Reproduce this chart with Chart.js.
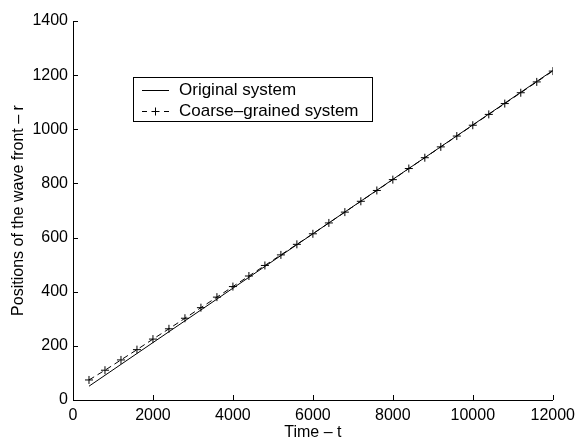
<!DOCTYPE html>
<html>
<head>
<meta charset="utf-8">
<script src="https://cdn.jsdelivr.net/npm/chart.js@4.4.1/dist/chart.umd.min.js"></script>
<style>
  html, body { margin: 0; padding: 0; background: #fff; }
  #wrap { width: 581px; height: 443px; }
</style>
</head>
<body>
<div id="wrap"><canvas id="c" width="581" height="443"></canvas></div>
<script>
// Wave-front position versus time for the two models
const originalT = [400, 2000, 4000, 6000, 8000, 10000, 12000];
const originalR = [51, 212, 413, 614, 815, 1016, 1217];

const coarseT = [400, 800, 1200, 1600, 2000, 2400, 2800, 3200, 3600, 4000,
                 4400, 4800, 5200, 5600, 6000, 6400, 6800, 7200, 7600, 8000,
                 8400, 8800, 9200, 9600, 10000, 10400, 10800, 11200, 11600, 12000];
const coarseR = [74, 110, 148, 186, 225, 263, 302, 341, 380, 419,
                 458, 497, 536, 575, 614, 654, 694, 734, 774, 814,
                 855, 895, 935, 975, 1015, 1055, 1095, 1135, 1175, 1215];

const xTicks = [0, 2000, 4000, 6000, 8000, 10000, 12000];
const yTicks = [0, 200, 400, 600, 800, 1000, 1200, 1400];

const seriesNames = ['Original system', 'Coarse\u2013grained system'];
const xTitle = 'Time \u2013 t';
const yTitle = 'Positions of the wave front \u2013 r';

const FONT = "'Liberation Sans', Arial, Helvetica, sans-serif";

const toPts = (xs, ys) => xs.map((x, i) => ({ x, y: ys[i] }));

// Inward tick marks (drawn on the inside of the axes)
const innerTicks = {
  id: 'innerTicks',
  afterDraw(chart) {
    const { ctx, chartArea: a, scales: { x, y } } = chart;
    const len = 5;
    ctx.save();
    ctx.strokeStyle = '#000';
    ctx.lineWidth = 1;
    ctx.beginPath();
    xTicks.forEach(v => {
      const px = Math.round(x.getPixelForValue(v)) + 0.5;
      ctx.moveTo(px, a.bottom);
      ctx.lineTo(px, a.bottom - len);
    });
    yTicks.forEach(v => {
      const py = Math.round(y.getPixelForValue(v)) + 0.5;
      ctx.moveTo(a.left, py);
      ctx.lineTo(a.left + len, py);
    });
    ctx.stroke();
    ctx.restore();
  }
};

// Boxed legend placed inside the plot area
const boxLegend = {
  id: 'boxLegend',
  afterDraw(chart) {
    const { ctx } = chart;
    const x0 = 133, y0 = 77, w = 239, h = 44;
    ctx.save();
    ctx.fillStyle = '#fff';
    ctx.fillRect(x0, y0, w, h);
    ctx.strokeStyle = '#000';
    ctx.lineWidth = 1;
    ctx.strokeRect(x0 + 0.5, y0 + 0.5, w, h);
    ctx.font = '17px ' + FONT;
    ctx.fillStyle = '#000';
    ctx.textBaseline = 'middle';
    chart.data.datasets.forEach((ds, i) => {
      const cy = y0 + 13 + i * 21 + 0.5;
      const lx1 = x0 + 9, lx2 = x0 + 36;
      // sample line: short dashes for the dashed series
      ctx.setLineDash(ds.borderDash ? [5, 6] : []);
      ctx.lineWidth = ds.borderWidth;
      ctx.beginPath();
      ctx.moveTo(lx1, cy);
      ctx.lineTo(lx2, cy);
      ctx.stroke();
      ctx.setLineDash([]);
      if (ds.pointRadius > 0) {
        const mx = (lx1 + lx2) / 2, r = ds.pointRadius;
        ctx.beginPath();
        ctx.moveTo(mx - r, cy); ctx.lineTo(mx + r, cy);
        ctx.moveTo(mx, cy - r); ctx.lineTo(mx, cy + r);
        ctx.stroke();
      }
      ctx.fillText(ds.label, x0 + 46, cy);
    });
    ctx.restore();
  }
};

new Chart(document.getElementById('c'), {
  type: 'scatter',
  data: {
    datasets: [
      {
        label: seriesNames[0],
        data: toPts(originalT, originalR),
        showLine: true,
        borderColor: '#000',
        borderWidth: 1,
        pointRadius: 0,
        fill: false
      },
      {
        label: seriesNames[1],
        data: toPts(coarseT, coarseR),
        showLine: true,
        borderColor: '#000',
        borderWidth: 1,
        borderDash: [6, 4],
        pointStyle: 'cross',
        pointRadius: 4,
        pointBorderColor: '#000',
        pointBorderWidth: 1,
        fill: false
      }
    ]
  },
  options: {
    responsive: false,
    animation: false,
    layout: { padding: { top: 21, right: 24, left: 0, bottom: 0 } },
    plugins: {
      legend: { display: false },
      tooltip: { enabled: false }
    },
    scales: {
      x: {
        type: 'linear',
        min: 0, max: 12000,
        afterBuildTicks: s => { s.ticks = xTicks.map(v => ({ value: v })); },
        afterFit: s => { s.height = 43; },
        grid: { display: true, drawOnChartArea: false, drawTicks: false, color: '#000' },
        border: { display: true, color: '#000', width: 1 },
        ticks: { color: '#000', font: { family: FONT, size: 16 }, padding: 6, maxRotation: 0,
                 callback: v => String(v) },
        title: { display: true, text: xTitle, color: '#000', font: { family: FONT, size: 16 }, padding: { top: 0, bottom: 1 } }
      },
      y: {
        type: 'linear',
        min: 0, max: 1400,
        afterBuildTicks: s => { s.ticks = yTicks.map(v => ({ value: v })); },
        afterFit: s => { s.width = 73; },
        grid: { display: true, drawOnChartArea: false, drawTicks: false, color: '#000' },
        border: { display: true, color: '#000', width: 1 },
        ticks: { color: '#000', font: { family: FONT, size: 16 }, padding: 5,
                 callback: v => String(v) },
        title: { display: true, text: yTitle, color: '#000', font: { family: FONT, size: 16 }, padding: { top: 9, bottom: 0 } }
      }
    }
  },
  plugins: [innerTicks, boxLegend]
});
</script>
</body>
</html>
